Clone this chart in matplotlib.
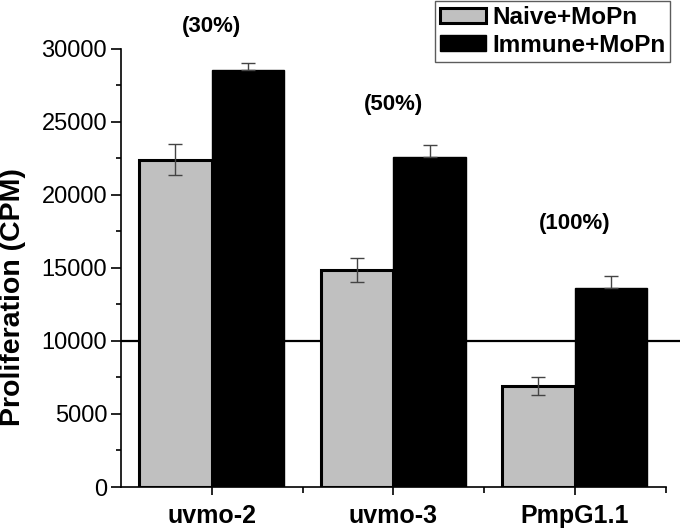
import matplotlib
matplotlib.use("Agg")
import matplotlib.pyplot as plt
import numpy as np

plt.rcParams['font.family'] = ['Liberation Sans', 'DejaVu Sans']

categories = ["uvmo-2", "uvmo-3", "PmpG1.1"]
naive_vals = [22400, 14850, 6900]
naive_err = [1050, 800, 620]
immune_vals = [28550, 22550, 13600]
immune_err = [450, 870, 830]
series_labels = ["Naive+MoPn", "Immune+MoPn"]
annotations = ["(30%)", "(50%)", "(100%)"]
annot_y = [31500, 26200, 18050]
ref_line = 10000

W, H = 680, 528
fig = plt.figure(figsize=(W / 100, H / 100), dpi=100)
ax = fig.add_axes([121 / W, 41 / H, (W - 121) / W, (487 - 48.5) / H])

x = np.arange(1, len(categories) + 1)
bw = 0.4

ax.axhline(ref_line, color='black', lw=1.6, zorder=1)
ax.bar(x - bw / 2, naive_vals, width=bw, color='#c0c0c0', edgecolor='black',
       linewidth=2.2, label=series_labels[0], zorder=2)
ax.bar(x + bw / 2, immune_vals, width=bw, color='black', edgecolor='black',
       linewidth=1, label=series_labels[1], zorder=2)
ax.errorbar(x - bw / 2, naive_vals, yerr=naive_err, fmt='none', ecolor='#444444',
            elinewidth=1, capsize=5, capthick=1, zorder=3)
ax.errorbar(x + bw / 2, immune_vals, yerr=[[0] * 3, immune_err], fmt='none',
            ecolor='#444444', elinewidth=1, capsize=5, capthick=1, zorder=3)

for xi, t, yy in zip(x, annotations, annot_y):
    ax.text(xi, yy, t, ha='center', va='center', fontsize=16, fontweight='bold',
            clip_on=False)

ax.set_xlim(0.5, 0.5 + (W - 121) / 181.5)
ax.set_ylim(0, 30000)
ax.spines['top'].set_visible(False)
ax.spines['right'].set_visible(False)
ax.spines['bottom'].set_bounds(0.5, 3.5)
ax.spines['left'].set_linewidth(1.2)
ax.spines['bottom'].set_linewidth(1.2)

ax.set_xticks(x)
ax.set_xticklabels(categories, fontsize=18, fontweight='bold')
ax.set_xticks([1.5, 2.5, 3.5], minor=True)
ax.set_yticks(np.arange(0, 30001, 5000))
ax.set_yticks(np.arange(2500, 30000, 5000), minor=True)
ax.tick_params(axis='y', labelsize=17, direction='out', length=7, width=1.2, pad=3)
ax.tick_params(axis='y', which='minor', length=3.5, width=1.2)
ax.tick_params(axis='x', direction='out', length=6, width=1.2, pad=6)
ax.tick_params(axis='x', which='minor', length=4, width=1.2)

fig.text(13 / W, 1 - 297 / H, "Proliferation (CPM)", rotation=90, ha='center',
         va='center', fontsize=20.5, fontweight='bold')

leg = ax.legend(loc='upper right', bbox_to_anchor=(670 / W, 1 - 1 / H),
                bbox_transform=fig.transFigure, prop={'size': 17.5, 'weight': 'bold'},
                frameon=True, fancybox=False, borderaxespad=0, borderpad=0.2,
                handlelength=1.9, handleheight=0.6, handletextpad=0.25,
                labelspacing=0.2)
leg.get_frame().set_edgecolor('#333333')
leg.get_frame().set_linewidth(1)

fig.savefig("out.png", dpi=100)
